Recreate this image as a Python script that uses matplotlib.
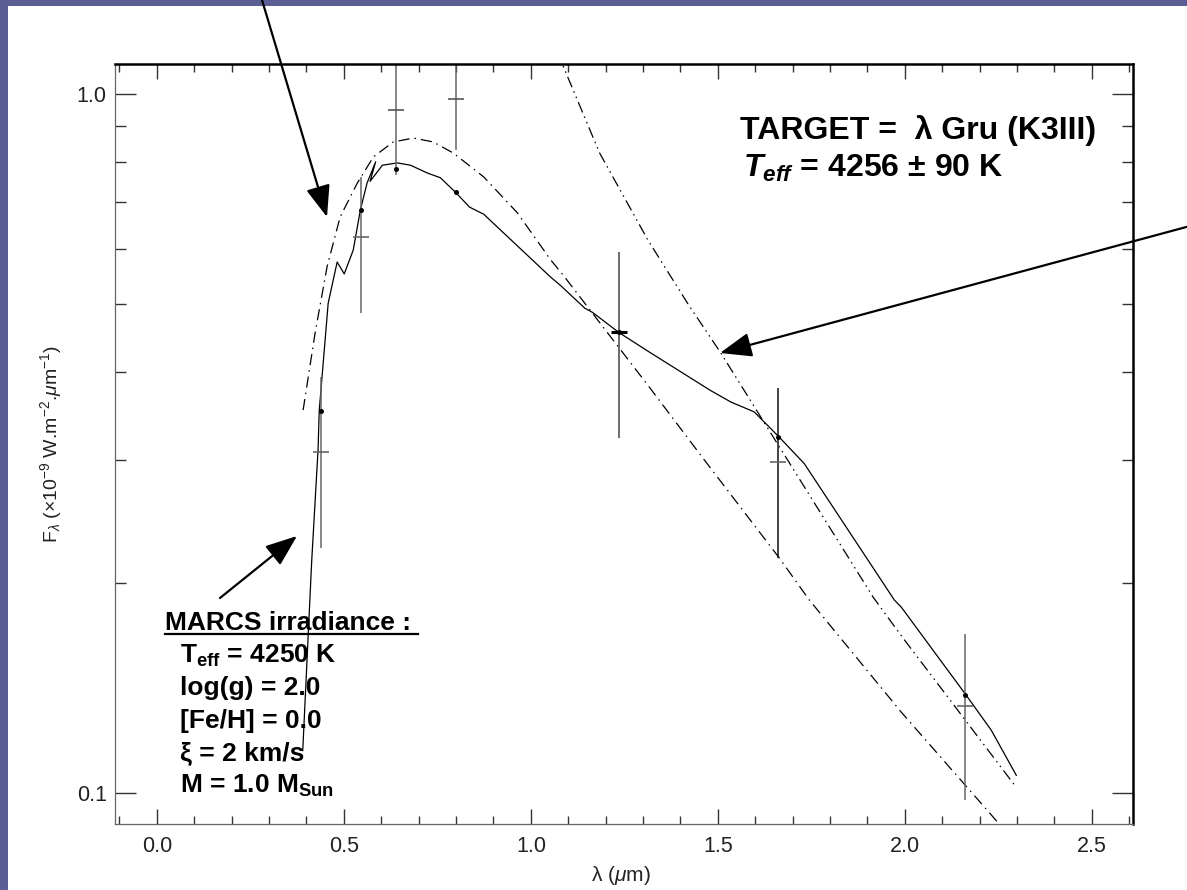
import numpy as np
import matplotlib
matplotlib.use("Agg")
import matplotlib.pyplot as plt
from matplotlib.patches import Rectangle, FancyArrowPatch
from matplotlib.lines import Line2D
from matplotlib.ticker import FuncFormatter, NullFormatter, MultipleLocator

plt.rcParams['font.family'] = ['Liberation Sans', 'DejaVu Sans']
plt.rcParams['mathtext.fontset'] = 'custom'
plt.rcParams['mathtext.rm'] = 'Liberation Sans'
plt.rcParams['mathtext.it'] = 'Liberation Sans:italic'
plt.rcParams['mathtext.bf'] = 'Liberation Sans:bold'
plt.rcParams['mathtext.sf'] = 'Liberation Sans:italic:bold'

# MARCS synthetic irradiance (solid)
marcs_wl = [0.39, 0.414, 0.431, 0.434, 0.458, 0.482, 0.501, 0.525, 0.544, 0.562,
            0.585, 0.570, 0.603, 0.643, 0.678, 0.723, 0.758, 0.798, 0.836, 0.874,
            1.053, 1.078, 1.144, 1.165, 1.235, 1.318, 1.479, 1.535, 1.597, 1.664,
            1.731, 1.972, 1.99, 2.164, 2.231, 2.298]
marcs_flux = [0.115, 0.215, 0.31, 0.352, 0.502, 0.575, 0.553, 0.598, 0.682, 0.746,
              0.80, 0.75, 0.791, 0.797, 0.791, 0.771, 0.759, 0.724, 0.689, 0.673,
              0.547, 0.533, 0.494, 0.487, 0.456, 0.427, 0.377, 0.3625, 0.351, 0.323,
              0.296, 0.1888, 0.1846, 0.138, 0.123, 0.106]

# black body at Teff (dash-dot)
bb_wl = [0.391, 0.423, 0.455, 0.49, 0.536, 0.579, 0.632, 0.686, 0.739, 0.793,
         0.874, 0.964, 1.053, 1.086, 1.318, 1.46, 1.664, 1.744, 1.99, 2.25, 2.28]
bb_flux = [0.353, 0.455, 0.566, 0.667, 0.746, 0.813, 0.854, 0.865, 0.854, 0.823,
           0.761, 0.676, 0.579, 0.551, 0.38, 0.3014, 0.217, 0.189, 0.1306, 0.0906, 0.086]

# Rayleigh-Jeans tail (dash-dot-dot)
rj_wl = [1.07, 1.184, 1.313, 1.422, 1.508, 1.915, 1.99, 2.293]
rj_flux = [1.15, 0.823, 0.618, 0.499, 0.426, 0.1907, 0.168, 0.1027]

# photometry: synthetic band fluxes (dots), measured fluxes (crosses) and error bars
band_wl = [0.44, 0.545, 0.64, 0.80, 1.235, 1.66, 2.16]
band_model = [0.352, 0.682, 0.78, 0.724, 0.4564, 0.323, 0.138]
band_obs = [0.3076, 0.624, 0.949, 0.984, 0.4564, 0.2975, 0.1332]
band_lo = [0.224, 0.486, 0.766, 0.8317, 0.322, 0.217, 0.0977]
band_hi = [0.394, 0.762, 1.25, 1.25, 0.594, 0.38, 0.1688]

marcs_lines = [r"T$_{\mathbf{eff}}$ = 4250 K", "log(g) = 2.0", "[Fe/H] = 0.0",
               "ξ = 2 km/s", r"M = 1.0 M$_{\mathbf{Sun}}$"]

W, H = 1187, 890
fig = plt.figure(figsize=(W / 100, H / 100), dpi=100)
fig.patch.set_facecolor('#5a5e95')


def fpos(px, py):
    return (px / W, 1 - py / H)


fig.add_artist(Rectangle(fpos(8, 890), 1 - 8 / W, 1 - 6 / H, transform=fig.transFigure,
                         facecolor='white', edgecolor='none', zorder=-1))

ax = fig.add_axes([115 / W, 1 - 824 / H, (1133 - 115) / W, (824 - 64) / H])
ax.set_yscale('log')
ax.set_xlim(-0.112, 2.61)
ax.set_ylim(0.0903, 1.104)

ax.plot(marcs_wl, marcs_flux, color='black', lw=0.9)
ax.plot(bb_wl, bb_flux, color='black', lw=0.9, linestyle=(0, (9, 4, 1.2, 4)))
ax.plot(rj_wl, rj_flux, color='black', lw=0.9, linestyle=(0, (9, 3.5, 1.2, 3.5, 1.2, 3.5)))

bar_colors = ['#666666', '#666666', '#666666', '#666666', '#444444', '#111111', '#666666']
cross_colors = ['#666666', '#666666', '#555555', '#555555', '#000000', '#666666', '#666666']
for i in range(len(band_wl)):
    ax.vlines(band_wl[i], band_lo[i], band_hi[i], color=bar_colors[i], lw=1.1)
    ax.plot(band_wl[i], band_obs[i], marker='_', ms=12, mew=1.2 if i != 4 else 2.2,
            color=cross_colors[i])
ax.plot(band_wl, band_model, 'o', color='black', ms=3.6, mew=0)

# axes frame
for side in ('left', 'bottom'):
    ax.spines[side].set_color('#666666')
    ax.spines[side].set_linewidth(0.9)
for side in ('top', 'right'):
    ax.spines[side].set_color('black')
    ax.spines[side].set_linewidth(1.8)

ax.xaxis.set_major_locator(MultipleLocator(0.5))
ax.xaxis.set_minor_locator(MultipleLocator(0.1))
ax.xaxis.set_major_formatter(FuncFormatter(lambda v, p: f"{v:.1f}"))
ax.yaxis.set_major_formatter(FuncFormatter(lambda v, p: f"{v:.1f}"))
ax.yaxis.set_minor_formatter(NullFormatter())
ax.tick_params(axis='both', which='both', direction='in', top=True, right=True,
               color='#333333', labelcolor='#222222', labelsize=15.5, width=1)
ax.tick_params(axis='x', which='major', length=11, pad=9)
ax.tick_params(axis='x', which='minor', length=5.5)
ax.tick_params(axis='y', which='major', length=15, pad=6)
ax.tick_params(axis='y', which='minor', length=8)

ax.set_xlabel(r"λ ($\mu$m)", fontsize=15, color='#222222')
ax.xaxis.set_label_coords(0.497, -0.053)
ax.set_ylabel(r"F$_\lambda$ (×10$^{-9}$ W.m$^{-2}$.$\mu$m$^{-1}$)", fontsize=14, color='#222222')
ax.yaxis.set_label_coords(-0.05, 0.5)

# annotations
fig.text(*fpos(740, 139), "TARGET =  λ Gru (K3III)", fontsize=23, fontweight='bold', va='baseline')
fig.text(*fpos(743, 177), r"$\mathsf{T_{eff}}$ = 4256 ± 90 K", fontsize=23, fontweight='bold',
         va='baseline')

fig.text(*fpos(165, 630), "MARCS irradiance :", fontsize=19, fontweight='bold', va='baseline')
fig.add_artist(Line2D([165 / W, 418 / W], [1 - 634 / H] * 2, transform=fig.transFigure,
                      color='black', lw=1.6))
for k, line in enumerate(marcs_lines):
    fig.text(*fpos(180, 663 + 32.5 * k), line, fontsize=19, fontweight='bold', va='baseline')

for start, tip in [((262, 0), (327, 217)), ((1190, 226), (720, 353)), ((220, 598), (297, 536))]:
    fig.add_artist(FancyArrowPatch(fpos(*start), fpos(*tip), transform=fig.transFigure,
                                   arrowstyle='-|>,head_length=1.3,head_width=0.5',
                                   mutation_scale=15, lw=1.6, color='black',
                                   shrinkA=0, shrinkB=0, zorder=5))

fig.savefig("out.png", dpi=100, facecolor=fig.get_facecolor())
